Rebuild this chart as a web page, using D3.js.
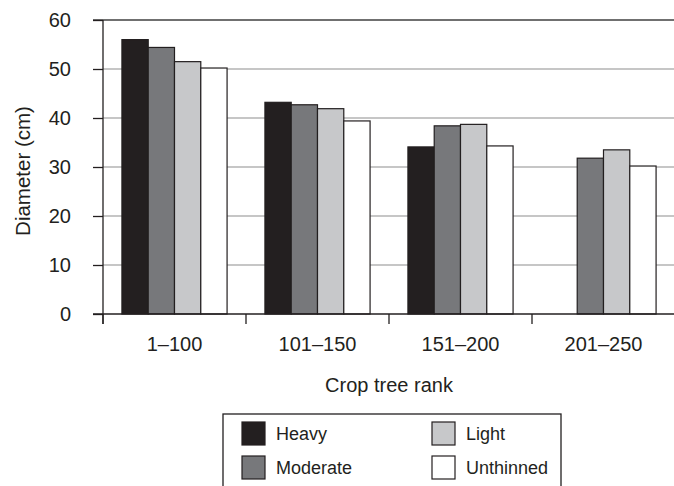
<!DOCTYPE html>
<html>
<head>
<meta charset="utf-8">
<script src="https://cdn.jsdelivr.net/npm/d3@7"></script>
<style>
  html, body { margin: 0; padding: 0; background: #fff; }
  svg { display: block; font-family: "Liberation Sans", Arial, Helvetica, sans-serif; }
</style>
</head>
<body>
<svg id="chart" width="674" height="486"></svg>
<script>
const categories = ["1\u2013100", "101\u2013150", "151\u2013200", "201\u2013250"];
const seriesNames = ["Heavy", "Moderate", "Light", "Unthinned"];
const heavy     = [56.0, 43.2, 34.1, null];
const moderate  = [54.4, 42.7, 38.4, 31.8];
const light     = [51.5, 41.9, 38.7, 33.5];
const unthinned = [50.2, 39.4, 34.3, 30.2];
const yTicks = [0, 10, 20, 30, 40, 50, 60];
const colors = ["#231f20", "#77787b", "#c7c8ca", "#ffffff"];
const seriesValues = [heavy, moderate, light, unthinned];

(function () {
const svg = d3.select("#chart");
const pLeft = 103, pRight = 675, pTop = 20, pBottom = 314;

const x0 = d3.scaleBand().domain(categories).range([pLeft, pRight]).padding(0);
const x1 = d3.scaleBand().domain(seriesNames).range([0, x0.bandwidth()])
  .paddingInner(0).paddingOuter(0.72);
const y = d3.scaleLinear().domain([0, 60]).range([pBottom, pTop]);

// gridlines
svg.append("g").selectAll("line")
  .data(yTicks.filter(t => t > 0 && t < 60))
  .join("line")
  .attr("x1", pLeft).attr("x2", 674)
  .attr("y1", d => y(d)).attr("y2", d => y(d))
  .attr("stroke", "#b3b3b3").attr("stroke-width", 1.4);

// top line
svg.append("line")
  .attr("x1", 93).attr("x2", 674)
  .attr("y1", y(60)).attr("y2", y(60))
  .attr("stroke", "#404040").attr("stroke-width", 1.5);

// bars
const data = [];
categories.forEach((c, i) => {
  seriesNames.forEach((s, j) => {
    const v = seriesValues[j][i];
    if (v != null) data.push({ c, s, v, j });
  });
});
svg.append("g").selectAll("rect")
  .data(data)
  .join("rect")
  .attr("x", d => x0(d.c) + x1(d.s))
  .attr("y", d => y(d.v))
  .attr("width", x1.bandwidth())
  .attr("height", d => y(0) - y(d.v))
  .attr("fill", d => colors[d.j])
  .attr("stroke", "#231f20")
  .attr("stroke-width", 1.2);

// y axis
const yAxis = d3.axisLeft(y).tickValues(yTicks).tickSize(10).tickPadding(22);
const gy = svg.append("g").attr("transform", `translate(${pLeft},0)`).call(yAxis);
gy.select(".domain").remove();
gy.selectAll(".tick line").attr("stroke", "#231f20").attr("stroke-width", 1.3);
gy.selectAll(".tick text").attr("font-size", 20).attr("fill", "#231f20")
  .attr("font-family", "Liberation Sans, Arial, sans-serif");
svg.append("line")
  .attr("x1", pLeft).attr("x2", pLeft)
  .attr("y1", y(60)).attr("y2", pBottom + 10)
  .attr("stroke", "#231f20").attr("stroke-width", 1.3);

// x axis line
svg.append("line")
  .attr("x1", 93).attr("x2", 674)
  .attr("y1", pBottom).attr("y2", pBottom)
  .attr("stroke", "#231f20").attr("stroke-width", 1.3);

// category boundary ticks
svg.append("g").selectAll("line")
  .data(categories)
  .join("line")
  .attr("x1", d => x0(d)).attr("x2", d => x0(d))
  .attr("y1", pBottom).attr("y2", pBottom + 10)
  .attr("stroke", "#231f20").attr("stroke-width", 1.3);

// x labels
const xAxis = d3.axisBottom(x0).tickSize(0).tickPadding(23);
const gx = svg.append("g").attr("transform", `translate(0,${pBottom})`).call(xAxis);
gx.select(".domain").remove();
gx.selectAll(".tick text").attr("font-size", 20).attr("fill", "#231f20")
  .attr("font-family", "Liberation Sans, Arial, sans-serif");

// axis titles
svg.append("text")
  .attr("x", (pLeft + pRight) / 2).attr("y", 392)
  .attr("text-anchor", "middle").attr("font-size", 20).attr("fill", "#231f20")
  .text("Crop tree rank");
svg.append("text")
  .attr("transform", `translate(30,171) rotate(-90)`)
  .attr("text-anchor", "middle").attr("font-size", 20.5).attr("fill", "#231f20")
  .text("Diameter (cm)");

// legend
const lg = svg.append("g");
lg.append("rect")
  .attr("x", 223).attr("y", 414).attr("width", 338).attr("height", 100)
  .attr("fill", "#fff").attr("stroke", "#231f20").attr("stroke-width", 1.3);
const legendPos = [[242, 422], [242, 456], [432, 422], [432, 456]];
seriesNames.forEach((s, j) => {
  const [lx, ly] = legendPos[j];
  lg.append("rect").attr("x", lx).attr("y", ly).attr("width", 23).attr("height", 23)
    .attr("fill", colors[j]).attr("stroke", "#231f20").attr("stroke-width", 1.2);
  lg.append("text").attr("x", lx + 34).attr("y", ly + 18)
    .attr("font-size", 18).attr("fill", "#231f20").text(s);
});
})();
</script>
</body>
</html>
